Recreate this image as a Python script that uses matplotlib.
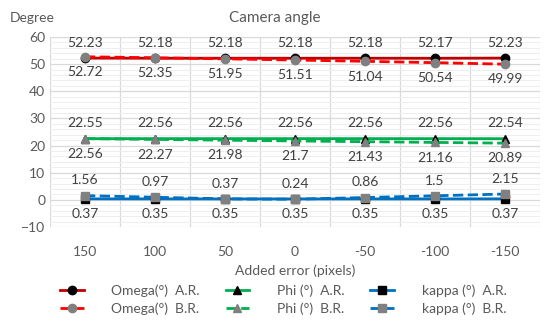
import matplotlib.pyplot as plt
import numpy as np

plt.rcParams['font.family'] = ['Lato', 'DejaVu Sans']

errors = ['150', '100', '50', '0', '-50', '-100', '-150']
omega_ar = [52.23, 52.18, 52.18, 52.18, 52.18, 52.17, 52.23]
omega_br = [52.72, 52.35, 51.95, 51.51, 51.04, 50.54, 49.99]
phi_ar = [22.55, 22.56, 22.56, 22.56, 22.56, 22.56, 22.54]
phi_br = [22.56, 22.27, 21.98, 21.7, 21.43, 21.16, 20.89]
kappa_ar = [0.37, 0.35, 0.35, 0.35, 0.35, 0.35, 0.37]
kappa_br = [1.56, 0.97, 0.37, 0.24, 0.86, 1.5, 2.15]

txt = '#595959'
fig = plt.figure(figsize=(5.5, 3.23), dpi=100)
ax = fig.add_axes([50/550, 1 - 227/323, 490/550, 190/323])
x = np.arange(len(errors))

# series: (values, label, line colour, style, marker, marker colour, label side)
series = [
    (omega_ar, 'Omega(°)  A.R.', '#C00000', '-', 'o', 'black', 1),
    (omega_br, 'Omega(°)  B.R.', '#FF0000', '--', 'o', '#808080', -1),
    (phi_ar, 'Phi (°)  A.R.', '#00B050', '-', '^', 'black', 1),
    (phi_br, 'Phi (°)  B.R.', '#00B050', '--', '^', '#808080', -1),
    (kappa_ar, 'kappa (°)  A.R.', '#0070C0', '-', 's', 'black', -1),
    (kappa_br, 'kappa (°)  B.R.', '#0070C0', '--', 's', '#808080', 1),
]
for vals, lab, col, ls, mk, mcol, side in series:
    ax.plot(x, vals, color=col, ls=ls, lw=2, marker=mk, ms=6,
            mfc=mcol, mec=mcol, label=lab, zorder=3)
    for xi, v in zip(x, vals):
        ax.annotate(f'{v:g}', (xi, v), xytext=(0, 11 * side), textcoords='offset points',
                    ha='center', va='center', fontsize=10, color='#404040')

ax.set_xlim(-0.5, 6.5)
ax.set_ylim(-10, 60)
ax.set_yticks(range(-10, 61, 10))
ax.set_yticks(range(-10, 61, 2), minor=True)
ax.set_xticks(x)
ax.set_xticklabels(errors)
ax.set_xticks(np.arange(-0.5, 7, 1), minor=True)
ax.grid(which='major', axis='y', color='#D9D9D9', lw=0.9)
ax.grid(which='minor', axis='y', color='#EEEEEE', lw=0.7)
ax.grid(which='minor', axis='x', color='#D9D9D9', lw=0.9)
ax.set_axisbelow(True)
for s in ax.spines.values():
    s.set_visible(False)
ax.tick_params(which='both', length=0, colors=txt, labelsize=10)
ax.tick_params(axis='x', pad=14)

ax.set_xlabel('Added error (pixels)', color=txt, fontsize=10, labelpad=4)
fig.text(0.5, 0.945, 'Camera angle', ha='center', va='center', color=txt, fontsize=11)
fig.text(0.018, 0.945, 'Degree', ha='left', va='center', color=txt, fontsize=10)

fig.legend(loc='center', bbox_to_anchor=(0.515, 0.072), ncol=3, frameon=False,
           fontsize=10, labelcolor=txt, columnspacing=1.85, handlelength=1.7,
           handletextpad=2.0, labelspacing=0.35, borderpad=0)

fig.savefig('out.png', dpi=100)
